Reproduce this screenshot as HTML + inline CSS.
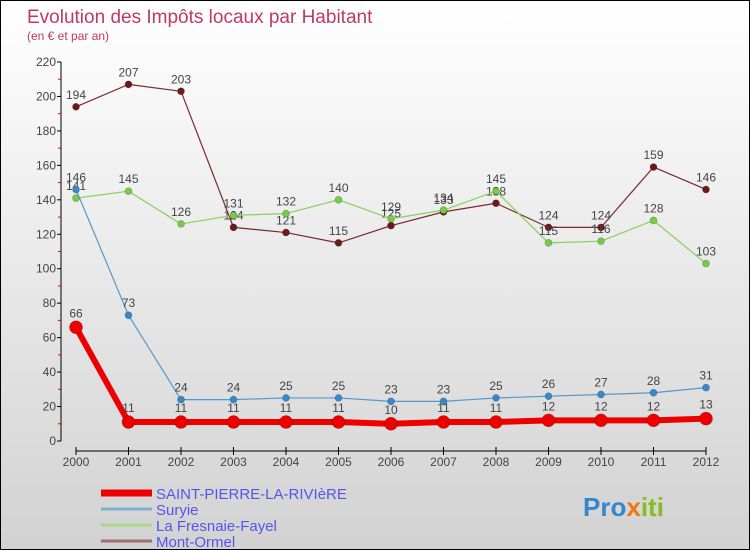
<!DOCTYPE html>
<html><head><meta charset="utf-8"><style>
html,body{margin:0;padding:0;}
#wrap{width:748px;height:548px;border:1px solid #000;background:linear-gradient(#ffffff,#d2d2d2);position:relative;overflow:hidden;font-family:"Liberation Sans",sans-serif;}
svg{position:absolute;left:0;top:0;}
</style></head><body>
<div id="wrap">
<svg id="c" width="748" height="548">
<text x="26" y="22" font-size="19" fill="#c0386a">Evolution des Impôts locaux par Habitant</text>
<text x="26" y="39" font-size="12" fill="#c0386a">(en € et par an)</text>
</svg>
</div>
<script>
const years=[2000,2001,2002,2003,2004,2005,2006,2007,2008,2009,2010,2011,2012];
const yTicks=[0,20,40,60,80,100,120,140,160,180,200,220];
const seriesNames=["SAINT-PIERRE-LA-RIVIèRE","Suryie","La Fresnaie-Fayel","Mont-Ormel"];
const stPierre=[66,11,11,11,11,11,10,11,11,12,12,12,13];
const suryie=[146,73,24,24,25,25,23,23,25,26,27,28,31];
const fresnaie=[141,145,126,131,132,140,129,134,145,115,116,128,103];
const mont=[194,207,203,124,121,115,125,133,138,124,124,159,146];
const NS="http://www.w3.org/2000/svg";
const svg=document.getElementById('c');
function X(i){return 75+i*(630/(years.length-1));}
function Y(v){return 440-v*(379/220);}
function mk(t,a,p){const e=document.createElementNS(NS,t);for(const k in a)e.setAttribute(k,a[k]);(p||svg).appendChild(e);return e;}
let ax=mk('line',{x1:60,y1:Y(220),x2:60,y2:440,stroke:'#000','stroke-width':1});


yTicks.forEach(v=>{
  mk('line',{x1:56,y1:Y(v),x2:60,y2:Y(v),stroke:'#000'});
  if(v<220) mk('line',{x1:57,y1:Y(v+10),x2:60,y2:Y(v+10),stroke:'#e00'});
  const t=mk('text',{x:55,y:Y(v)+4,'font-size':12,'text-anchor':'end',fill:'#444'});
  t.textContent=v;
  
  
});
let xa=mk('line',{x1:75,y1:450,x2:705,y2:450,stroke:'#000'});


years.forEach((y,i)=>{
  mk('line',{x1:X(i),y1:446,x2:X(i),y2:454,stroke:'#000'});
  const t=mk('text',{x:X(i),y:465,'font-size':12,'text-anchor':'middle',fill:'#444'});
  t.textContent=y;
  
  
});
function series(data,color,dot,w,r,name,labOff){
  const g=mk('g',{});
  
  
  mk('polyline',{points:data.map((v,i)=>X(i)+','+Y(v)).join(' '),fill:'none',stroke:color,'stroke-width':w,'stroke-linejoin':'round'},g);
  data.forEach((v,i)=>{
    const c=mk('circle',{cx:X(i),cy:Y(v),r:r,fill:dot,stroke:'rgba(0,0,0,0.25)','stroke-width':0.7},g);
    
    
    const t=mk('text',{x:X(i),y:Y(v)-labOff,'font-size':12,'text-anchor':'middle',fill:'#444'},g);
    t.textContent=v;
  });
}
series(mont,'#7a2a2a','#6b1a1a',1.2,3.5,'series-mont-ormel',8);
series(fresnaie,'#88d060','#77cc44',1.2,3.5,'series-la-fresnaie-fayel',8);
series(suryie,'#5599cc','#3a88cc',1.2,3.5,'series-suryie',8);
series(stPierre,'#ee0000','#ee0000',6,6.5,'series-saint-pierre',10);
const lc=['#ee0000','#7fb0d0','#a8d888','#a07070'],lw=[7,3,3,3];
seriesNames.forEach((n,i)=>{
  const y=492+i*16;
  const g=mk('g',{});
  
  
  mk('line',{x1:100,y1:y,x2:151,y2:y,stroke:lc[i],'stroke-width':lw[i]},g);
  const t=mk('text',{x:155,y:y+6,'font-size':15,fill:'#5555ee'},g);
  t.textContent=n;
});
const lg=mk('text',{x:582,y:515,'font-size':26,'font-weight':'bold',fill:'#3388cc'});


lg.innerHTML='<tspan fill="#3388cc">Pro</tspan><tspan fill="#ee7711">x</tspan><tspan fill="#88bb22">iti</tspan>';
</script>
</body></html>
